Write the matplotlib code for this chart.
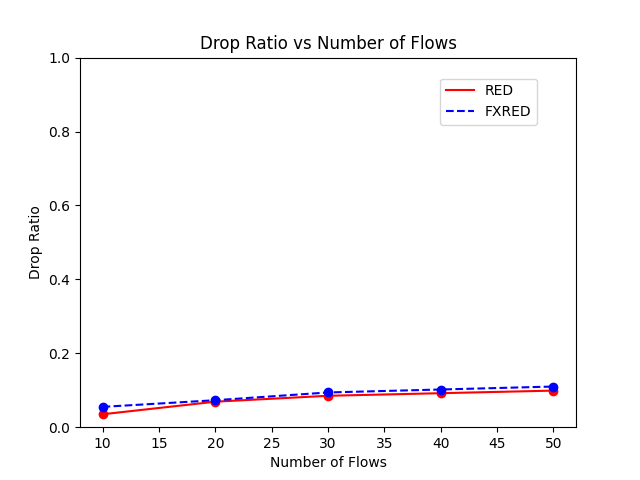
import matplotlib
matplotlib.use("Agg")
import matplotlib.pyplot as plt

flows = [10, 20, 30, 40, 50]
red = [0.035, 0.069, 0.085, 0.092, 0.099]
fxred = [0.055, 0.073, 0.094, 0.102, 0.110]

fig, ax = plt.subplots(figsize=(6.4, 4.8), dpi=100)
ax.plot(flows, red, color='red', linestyle='-', label='RED')
ax.scatter(flows, red, color='red', zorder=3)
ax.plot(flows, fxred, color='blue', linestyle='--', label='FXRED')
ax.scatter(flows, fxred, color='blue', zorder=3)
ax.set_ylim(0, 1.0)
ax.set_title('Drop Ratio vs Number of Flows')
ax.set_xlabel('Number of Flows')
ax.set_ylabel('Drop Ratio')
ax.legend(loc='upper right', bbox_to_anchor=(0.935, 0.962))
fig.savefig('out.png')
